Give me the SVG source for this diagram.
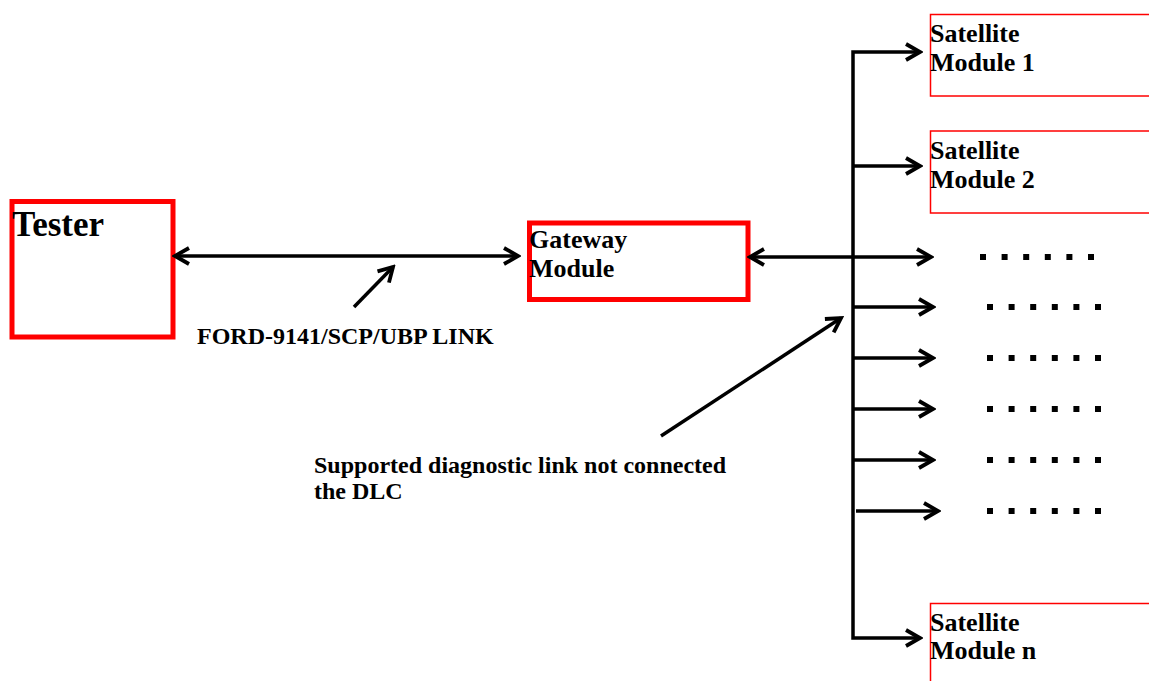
<svg xmlns="http://www.w3.org/2000/svg" width="1149" height="681" viewBox="0 0 1149 681">
<style>
.thick{fill:none;stroke:#ff0000;stroke-width:5}
.thin{fill:none;stroke:#ff0000;stroke-width:1.5}
.lbl{font-family:"Liberation Serif","Times New Roman",serif;font-weight:bold;fill:#000}
.ln{fill:none;stroke:#000;stroke-width:3.5}
.dots{fill:none;stroke:#000;stroke-width:6;stroke-dasharray:6 15.6}
</style>
<defs>
<marker id="ah" viewBox="0 0 20 20" refX="17" refY="10" markerWidth="20" markerHeight="20" markerUnits="userSpaceOnUse" orient="auto-start-reverse">
<path d="M3,2 L17,10 L3,18" fill="none" stroke="#000" stroke-width="3.8" stroke-linejoin="miter"/>
</marker>
</defs>
<rect width="1149" height="681" fill="#fff"/>
<g id="tester">
<rect class="thick" x="12" y="201.5" width="161" height="135.5"/>
<text class="lbl" x="12" y="236" font-size="35">Tester</text>
</g>
<g id="gateway">
<rect class="thick" x="529.5" y="223" width="218.5" height="76.5"/>
<text class="lbl" x="529" y="248" font-size="26">Gateway</text>
<text class="lbl" x="529" y="277" font-size="26">Module</text>
</g>
<g id="sat1">
<rect class="thin" x="930.5" y="14.5" width="230" height="81.5"/>
<text class="lbl" x="930" y="42" font-size="26">Satellite</text>
<text class="lbl" x="930" y="71" font-size="26">Module 1</text>
</g>
<g id="sat2">
<rect class="thin" x="930.5" y="131" width="230" height="82"/>
<text class="lbl" x="930" y="159" font-size="26">Satellite</text>
<text class="lbl" x="930" y="188" font-size="26">Module 2</text>
</g>
<g id="satn">
<rect class="thin" x="930.5" y="603.5" width="230" height="90"/>
<text class="lbl" x="930" y="631" font-size="26">Satellite</text>
<text class="lbl" x="930" y="659" font-size="26">Module n</text>
</g>
<g id="dotrows">
<line class="dots" x1="980" y1="257" x2="1100" y2="257"/>
<line class="dots" x1="987" y1="307" x2="1106" y2="307"/>
<line class="dots" x1="987" y1="358" x2="1106" y2="358"/>
<line class="dots" x1="987" y1="409" x2="1106" y2="409"/>
<line class="dots" x1="987" y1="460" x2="1106" y2="460"/>
<line class="dots" x1="987" y1="511" x2="1106" y2="511"/>
</g>
<g id="connectors">
<line class="ln" x1="175" y1="256" x2="518" y2="256" marker-start="url(#ah)" marker-end="url(#ah)"/>
<line class="ln" x1="354" y1="307" x2="393" y2="267" marker-end="url(#ah)"/>
<line class="ln" x1="750" y1="257" x2="931" y2="257" marker-start="url(#ah)" marker-end="url(#ah)"/>
<path class="ln" d="M920,52 H853 V638 H920" marker-start="url(#ah)" marker-end="url(#ah)"/>
<line class="ln" x1="853" y1="166" x2="920" y2="166" marker-end="url(#ah)"/>
<line class="ln" x1="853" y1="307" x2="933" y2="307" marker-end="url(#ah)"/>
<line class="ln" x1="853" y1="358" x2="933" y2="358" marker-end="url(#ah)"/>
<line class="ln" x1="853" y1="409" x2="933" y2="409" marker-end="url(#ah)"/>
<line class="ln" x1="853" y1="460" x2="933" y2="460" marker-end="url(#ah)"/>
<line class="ln" x1="856" y1="511" x2="938" y2="511" marker-end="url(#ah)"/>
<line class="ln" x1="661" y1="436" x2="841" y2="318" marker-end="url(#ah)"/>
</g>
<g id="labels">
<text class="lbl" x="197" y="344" font-size="24">FORD-9141/SCP/UBP LINK</text>
<text class="lbl" x="314" y="473" font-size="24">Supported diagnostic link not connected</text>
<text class="lbl" x="314" y="499" font-size="24">the DLC</text>
</g>
</svg>
